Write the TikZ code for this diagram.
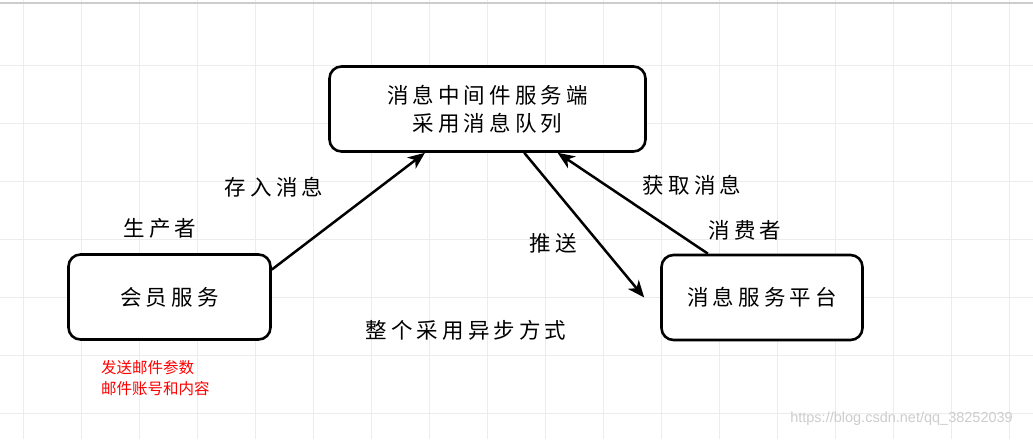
\documentclass[tikz,border=0pt]{standalone}
\usepackage{fontspec}
\newfontfamily\cjk[LetterSpace=19]{Noto Sans CJK SC}
\newfontfamily\cjkplain{Noto Sans CJK SC}
\newfontfamily\wmfont{Liberation Sans}
\usetikzlibrary{arrows.meta}
\definecolor{gridgray}{RGB}{236,236,236}
\definecolor{topgray}{RGB}{205,205,205}
\definecolor{notered}{RGB}{255,0,0}
\definecolor{wmgray}{RGB}{205,205,205}
\def\BoxH{85}
\def\LabelSize{\fontsize{21.5}{28}\selectfont}

\tikzset{
  svcbox/.style={draw, line width=2.6pt, rounded corners=12pt, fill=white,
    minimum height=\BoxH pt, align=center, inner sep=0pt, font=\cjk\LabelSize},
  flow/.style={line width=2.5pt, -{Stealth[length=17pt, width=14pt, inset=5pt]}},
  lbl/.style={font=\cjk\LabelSize, inner sep=0pt},
}

\begin{document}
\begin{tikzpicture}[x=1pt, y=-1pt]
\useasboundingbox (0,0) rectangle (1033,439);
\fill[white] (0,0) rectangle (1033,439);

% grid
\foreach \gx in {23,81,...,1023}
  \draw[gridgray, line width=1pt] (\gx,0) -- (\gx,439);
\foreach \gy in {65,123,...,413}
  \draw[gridgray, line width=1pt] (0,\gy) -- (1033,\gy);
\draw[topgray, line width=1.5pt] (0,3) -- (1033,3);

\node[svcbox, minimum width=316pt] (mq) at (487.5,109) {消息中间件服务端\\采用消息队列};
\node[svcbox, minimum width=202pt] (member) at (169.5,297) {会员服务};
\node[svcbox, minimum width=201pt] (platform) at (762,297.5) {消息服务平台};

\coordinate (pushend) at ([xshift=-16pt]platform.west);

\draw[flow] (member.15.8) -- (mq.215.6);
\draw[flow] (mq.310.4) -- (pushend);
\draw[flow] (platform.141) -- (mq.328);

\node[lbl] (store) at (274,187) {存入消息};
\node[lbl] (producer) at (160,228) {生产者};
\node[lbl] (fetch) at (692,185) {获取消息};
\node[lbl] (consumer) at (745,230) {消费者};
\node[lbl] (push) at (553,243) {推送};
\node[lbl] (async) at (466,330) {整个采用异步方式};

\node[anchor=west, align=left, inner sep=0pt, text=notered,
  font=\cjkplain\fontsize{15.5}{21.5}\selectfont] (mailnote) at (101,378)
  {发送邮件参数\\邮件账号和内容};

\node[anchor=east, inner sep=0pt, text=wmgray, font=\wmfont\fontsize{14.5}{16}\selectfont]
  (watermark) at (1013,419) {https://blog.csdn.net/qq\_38252039};
\end{tikzpicture}
\end{document}
